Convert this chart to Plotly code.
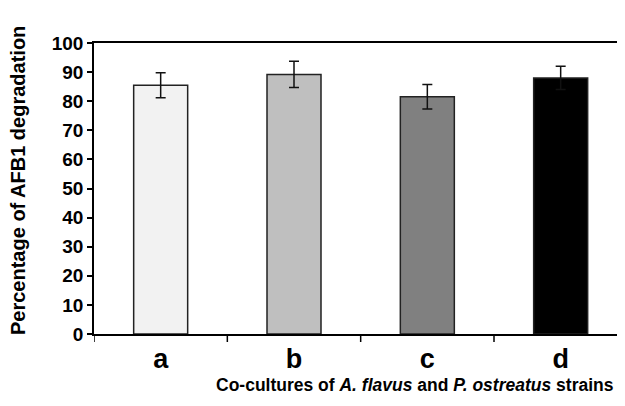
import plotly.graph_objects as go

categories = ["a", "b", "c", "d"]
values = [85.5, 89.2, 81.5, 88.0]
errors = [4.3, 4.5, 4.2, 4.0]
colors = ["#f2f2f2", "#bfbfbf", "#808080", "#000000"]
y_ticks = [0, 10, 20, 30, 40, 50, 60, 70, 80, 90, 100]

FONT = "Liberation Sans, Arial, sans-serif"

fig = go.Figure()
fig.add_trace(go.Bar(
    x=categories, y=values, width=0.405,
    marker=dict(color=colors, line=dict(color="#222222", width=1.5)),
    error_y=dict(type="data", array=errors, visible=True, color="#111111",
                 thickness=1.5, width=5),
))

fig.update_layout(
    width=617, height=390,
    margin=dict(l=86, r=0, t=35, b=64),
    paper_bgcolor="white", plot_bgcolor="white",
    showlegend=False,
    font=dict(family=FONT, color="black"),
    xaxis=dict(
        range=[-0.5, 3.4825], showline=True, linecolor="black", linewidth=1.5,
        mirror=True, ticks="", showgrid=False,
        tickfont=dict(size=27, family=FONT, weight="bold"),
    ),
    yaxis=dict(
        range=[0, 100], tickvals=y_ticks, showline=True, linecolor="black",
        linewidth=1.5, ticks="outside", ticklen=5, tickwidth=1.5, tickcolor="black",
        showgrid=False, zeroline=False,
        tickfont=dict(size=19, family=FONT, weight="bold"),
    ),
)

# category boundary ticks on the x axis
for b in [-0.5, 0.5, 1.5, 2.5]:
    fig.add_shape(type="line", xref="x", yref="paper", x0=b, x1=b, y0=0, y1=-0.0275,
                  line=dict(color="black", width=1.5))

fig.add_annotation(
    text="<b>Co-cultures of <i>A. flavus</i> and <i>P. ostreatus</i> strains</b>",
    xref="paper", yref="paper", x=0.604, y=-0.175, xanchor="center", yanchor="middle",
    showarrow=False, font=dict(size=17.5, family=FONT),
)
fig.add_annotation(
    text="<b>Percentage of AFB1 degradation</b>",
    xref="paper", yref="paper", x=-0.143, y=0.526, xanchor="center", yanchor="middle",
    textangle=-90, showarrow=False,
    font=dict(size=20, family=FONT),
)

fig.write_html("out.html")
